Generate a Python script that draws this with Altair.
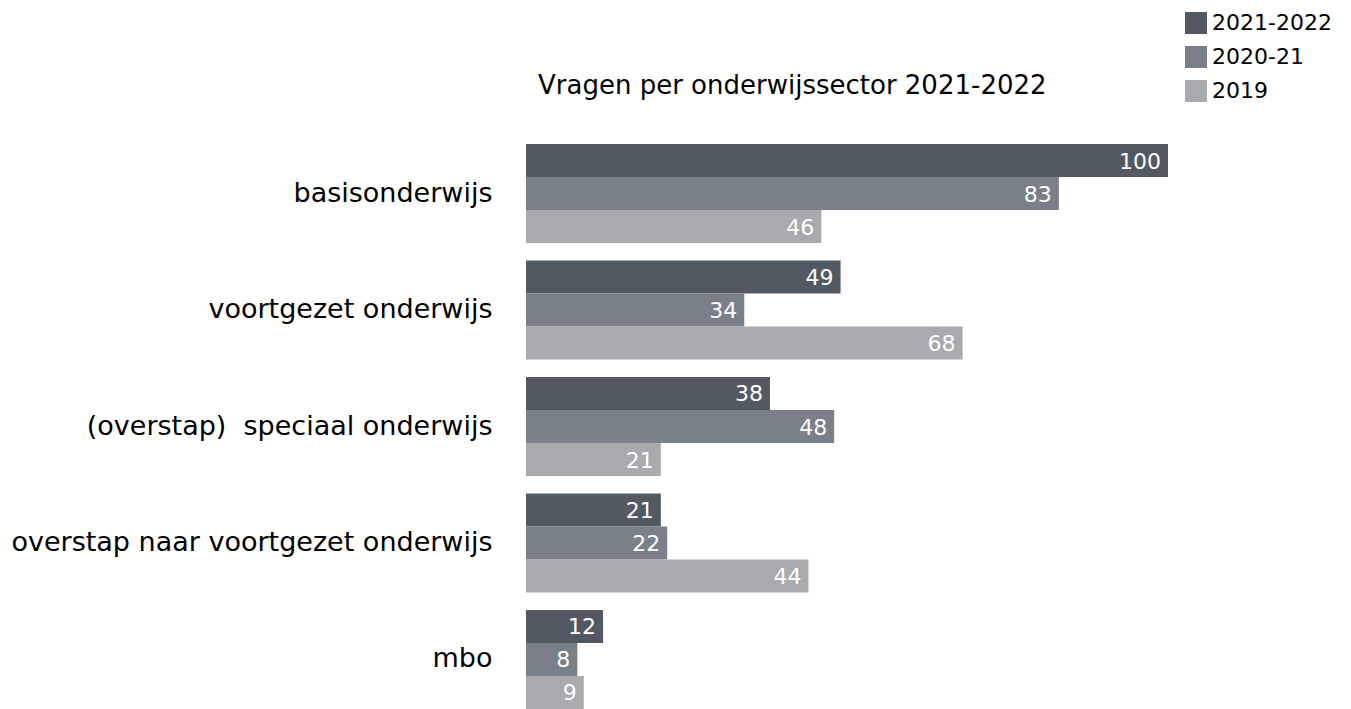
import altair as alt
import pandas as pd

categories = ["basisonderwijs", "voortgezet onderwijs", "(overstap)\u00a0 speciaal onderwijs",
              "overstap naar voortgezet onderwijs", "mbo"]
series = ["2021-2022", "2020-21", "2019"]
v_2021_2022 = [100, 49, 38, 21, 12]
v_2020_21 = [83, 34, 48, 22, 8]
v_2019 = [46, 68, 21, 44, 9]
colors = ["#525962", "#7a8089", "#a8aaae"]
title_text = "Vragen per onderwijssector 2021-2022"

rows = []
for s, vals in zip(series, [v_2021_2022, v_2020_21, v_2019]):
    for c, v in zip(categories, vals):
        rows.append({"sector": c, "jaar": s, "waarde": v})
df = pd.DataFrame(rows)

FONT = "DejaVu Sans"

y = alt.Y("sector:N", sort=categories, title=None,
          scale=alt.Scale(paddingInner=0.15, paddingOuter=0),
          axis=alt.Axis(domain=False, ticks=False, labelFontSize=27, labelFont=FONT,
                        labelColor="#000000", labelPadding=34, labelLimit=700))
x = alt.X("waarde:Q", scale=alt.Scale(domain=[0, 100]), axis=None)
yoff = alt.YOffset("jaar:N", sort=series, scale=alt.Scale(paddingInner=0, paddingOuter=0))

bars = alt.Chart(df).mark_bar().encode(
    y=y, x=x, yOffset=yoff,
    color=alt.Color("jaar:N", sort=series,
                    scale=alt.Scale(domain=series, range=colors),
                    legend=alt.Legend(title=None, orient="none", legendX=659, legendY=-132,
                                      symbolType="square", symbolSize=484, symbolStrokeWidth=0,
                                      labelFontSize=22, labelFont=FONT, labelColor="#000000",
                                      rowPadding=12, labelOffset=5, padding=0)),
)

labels = alt.Chart(df).mark_text(align="right", baseline="middle", dx=-7, dy=1, color="white",
                                 fontSize=22, font=FONT).encode(
    y=y, x=x, yOffset=yoff, text="waarde:Q"
)

title = alt.Chart(pd.DataFrame({"t": [title_text]})).mark_text(
    align="left", baseline="alphabetic", fontSize=26, font=FONT, color="#000000"
).encode(x=alt.value(12), y=alt.value(-50), text="t:N")

chart = (bars + labels + title).properties(
    width=642, height=565,
    autosize=alt.AutoSizeParams(type="none"),
    padding={"left": 518, "top": 136, "right": 168, "bottom": 0},
).configure_view(stroke=None)

chart.save("out.html", embed_options={"renderer": "svg", "actions": False})
